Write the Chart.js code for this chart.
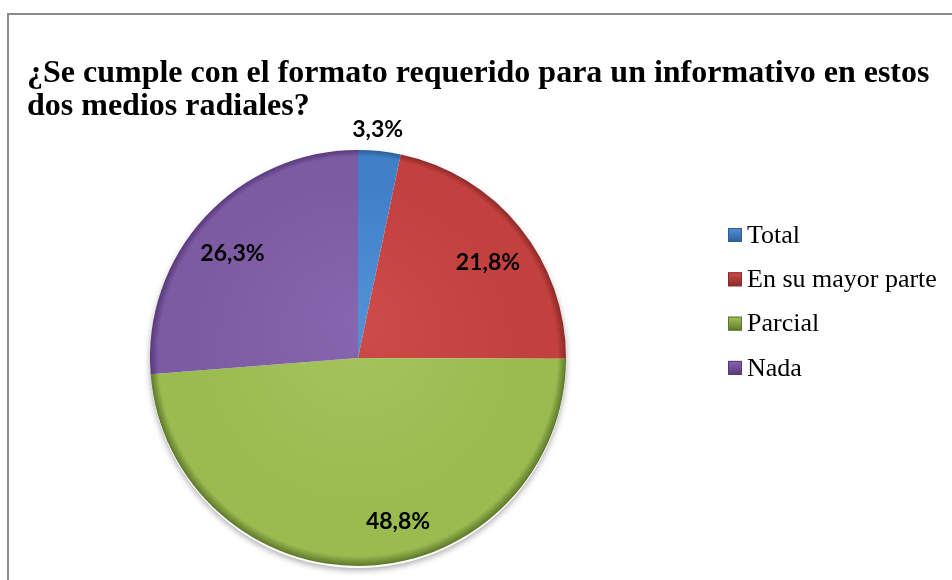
<!DOCTYPE html>
<html>
<head>
<meta charset="utf-8">
<script src="https://cdn.jsdelivr.net/npm/chart.js@4.4.1/dist/chart.umd.min.js"></script>
<style>
  html, body { margin: 0; padding: 0; background: #fff; overflow: hidden; }
  #wrap { position: relative; width: 952px; height: 580px; }
  #frame { position: absolute; left: 7px; top: 13px; width: 1000px; height: 700px; border: 2px solid #8a8a8a; box-sizing: border-box; pointer-events: none; }
  canvas { position: absolute; left: 0; top: 0; }
</style>
</head>
<body>
<div id="wrap">
  <canvas id="c" width="952" height="580"></canvas>
  <div id="frame"></div>
</div>
<script>
const titleLines = ['¿Se cumple con el formato requerido para un informativo en estos', 'dos medios radiales?'];
const categories = ['Total', 'En su mayor parte', 'Parcial', 'Nada'];
const values = [3.3, 21.8, 48.8, 26.3];
const valueLabels = ['3,3%', '21,8%', '48,8%', '26,3%'];

const baseColors = ['#4080c8', '#c2403d', '#9abb50', '#7c5ba3'];
const lightColors = ['#5290d6', '#cc4c49', '#a6c45e', '#8666ae'];
const darkColors = ['#2c5f98', '#8a2a28', '#5c772a', '#56397a'];

function sliceFill(ctx) {
  const chart = ctx.chart;
  const i = ctx.dataIndex;
  const area = chart.chartArea;
  if (!area) return baseColors[i];
  const cx = (area.left + area.right) / 2;
  const cy = (area.top + area.bottom) / 2;
  const r = Math.min(area.right - area.left, area.bottom - area.top) / 2;
  const g = chart.ctx.createRadialGradient(cx, cy - r * 0.2, 0, cx, cy, r);
  g.addColorStop(0, lightColors[i]);
  g.addColorStop(0.8, baseColors[i]);
  g.addColorStop(0.96, baseColors[i]);
  g.addColorStop(1, darkColors[i]);
  return g;
}

const shadowPlugin = {
  id: 'shadow',
  beforeDatasetsDraw(chart) {
    const meta = chart.getDatasetMeta(0);
    if (!meta.data.length) return;
    const a = meta.data[0];
    const c = chart.ctx;
    c.save();
    c.beginPath();
    c.arc(a.x, a.y + 2, a.outerRadius, 0, Math.PI * 2);
    c.shadowColor = 'rgba(0,0,0,0.35)';
    c.shadowBlur = 6;
    c.shadowOffsetY = 2;
    c.fillStyle = '#ffffff';
    c.fill();
    c.restore();
  }
};

const titlePlugin = {
  id: 'titleText',
  afterDraw(chart) {
    const c = chart.ctx;
    c.save();
    c.fillStyle = '#000';
    c.font = 'bold 32px "Liberation Serif", "Times New Roman", serif';
    c.textBaseline = 'alphabetic';
    c.textAlign = 'left';
    titleLines.forEach((t, k) => c.fillText(t, 27, 82 + k * 33));
    c.restore();
  }
};

// label placement style: radial fraction of the radius and angular nudge (degrees)
const labelFrac = [1.1, 0.775, 0.81, 0.785];
const labelNudge = [-1, 2.7, -11.6, -3];
const labelPlugin = {
  id: 'sliceLabels',
  afterDatasetsDraw(chart) {
    const meta = chart.getDatasetMeta(0);
    const c = chart.ctx;
    c.save();
    c.fillStyle = '#000';
    c.font = 'bold 23px Lato, "Open Sans", sans-serif';
    c.textAlign = 'center';
    c.textBaseline = 'middle';
    meta.data.forEach((arc, i) => {
      const p = arc.getProps(['x', 'y', 'startAngle', 'endAngle', 'outerRadius'], true);
      const mid = (p.startAngle + p.endAngle) / 2 + labelNudge[i] * Math.PI / 180;
      const d = p.outerRadius * labelFrac[i];
      c.fillText(valueLabels[i], p.x + Math.cos(mid) * d, p.y + Math.sin(mid) * d);
    });
    c.restore();
  }
};

const legendPlugin = {
  id: 'sideLegend',
  afterDraw(chart) {
    const c = chart.ctx;
    c.save();
    c.font = '26px "Liberation Serif", "Times New Roman", serif';
    c.textBaseline = 'middle';
    c.textAlign = 'left';
    chart.data.labels.forEach((lab, i) => {
      const y = 235 + i * 44.3;
      const g = c.createLinearGradient(0, y - 7, 0, y + 7);
      g.addColorStop(0, lightColors[i]);
      g.addColorStop(1, darkColors[i]);
      c.fillStyle = g;
      c.fillRect(728, y - 7, 14, 14);
      c.strokeStyle = darkColors[i];
      c.lineWidth = 1;
      c.strokeRect(728.5, y - 6.5, 13, 13);
      c.fillStyle = '#000';
      c.fillText(lab, 747, y + 1);
    });
    c.restore();
  }
};

new Chart(document.getElementById('c'), {
  type: 'pie',
  data: {
    labels: categories,
    datasets: [{
      data: values,
      backgroundColor: sliceFill,
      borderWidth: 0
    }]
  },
  options: {
    responsive: false,
    animation: false,
    layout: { padding: { left: 150, right: 386, top: 150, bottom: 14 } },
    plugins: {
      legend: { display: false },
      title: { display: false },
      tooltip: { enabled: false }
    }
  },
  plugins: [shadowPlugin, labelPlugin, titlePlugin, legendPlugin]
});
</script>
</body>
</html>
